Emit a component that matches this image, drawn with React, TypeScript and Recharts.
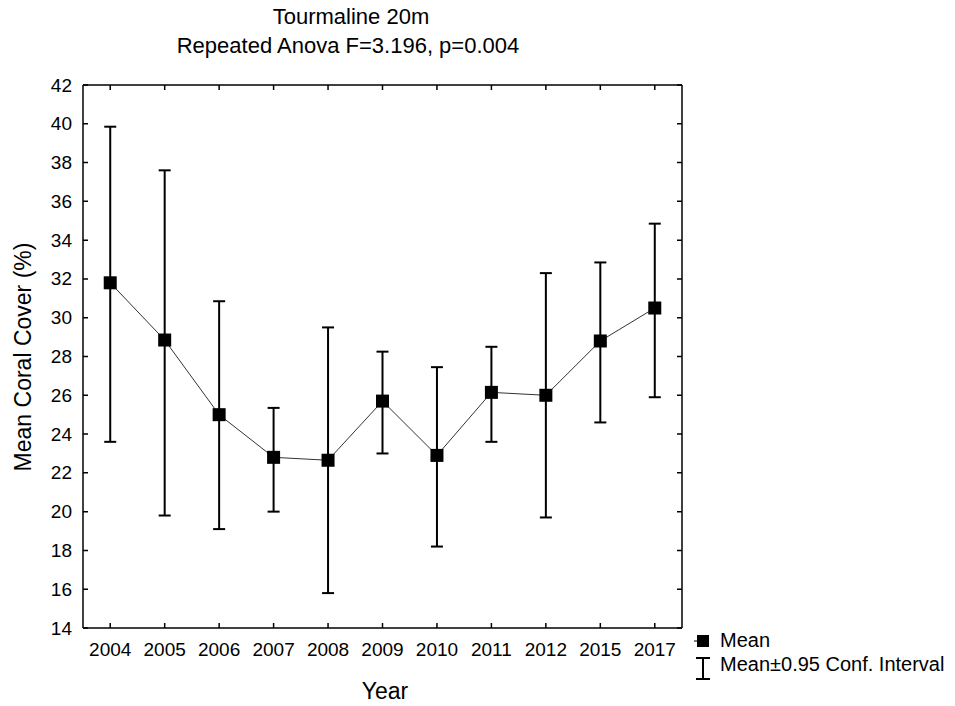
import React from "react";
import { LineChart, Line, XAxis, YAxis, ErrorBar, Legend } from "recharts";

const YEARS = ["2004", "2005", "2006", "2007", "2008", "2009", "2010", "2011", "2012", "2015", "2017"];
const MEANS = [31.8, 28.85, 25.0, 22.8, 22.65, 25.7, 22.9, 26.15, 26.0, 28.8, 30.5];
const LOWER = [23.6, 19.8, 19.1, 20.0, 15.8, 23.0, 18.2, 23.6, 19.7, 24.6, 25.9];
const UPPER = [39.85, 37.6, 30.85, 25.35, 29.5, 28.25, 27.45, 28.5, 32.3, 32.85, 34.85];
const Y_TICKS = [14, 16, 18, 20, 22, 24, 26, 28, 30, 32, 34, 36, 38, 40, 42];
const LEGEND_LABELS = ["Mean", "Mean±0.95 Conf. Interval"];

const data = YEARS.map((year, i) => ({
  year,
  mean: MEANS[i],
  ci: [MEANS[i] - LOWER[i], UPPER[i] - MEANS[i]],
}));

const FONT = '"Liberation Sans", Arial, sans-serif';
const W = 955;
const H = 706;
const MARGIN = { top: 84, right: 272, bottom: 77, left: 82 };
// plot width: margins plus the 1px axis widths on both sides
const PLOT_W = W - MARGIN.left - MARGIN.right - 2;
const TICK_LEN = 5;

const SquareDot = (props: any) => {
  const { cx, cy } = props;
  if (cx == null || cy == null) return null;
  return <rect x={cx - 6.5} y={cy - 6.5} width={13} height={13} fill="#000" />;
};

// inward tick marks drawn by hand; the left axis also draws the mirrored right-edge ticks
const FrameTick = (props: any) => {
  const { x, y, payload, side, label } = props;
  const px = Number(x);
  const py = Number(y);
  let d = "";
  let text = null;
  if (side === "bottom") {
    d = `M${px},${py}V${py - TICK_LEN}`;
    if (label)
      text = (
        <text x={px} y={py + 28} textAnchor="middle" fontSize={19} fontFamily={FONT} fill="#000">
          {payload.value}
        </text>
      );
  } else if (side === "top") {
    d = `M${px},${py}V${py + TICK_LEN}`;
  } else {
    const rx = px + PLOT_W;
    d = `M${px},${py}H${px + TICK_LEN}M${rx},${py}H${rx - TICK_LEN}`;
    if (label)
      text = (
        <text x={px - 11} y={py + 6.5} textAnchor="end" fontSize={19} fontFamily={FONT} fill="#000">
          {payload.value}
        </text>
      );
  }
  return (
    <g>
      <path d={d} stroke="#000" strokeWidth={1.5} fill="none" />
      {text}
    </g>
  );
};

const LegendBox = () => (
  <svg width={265} height={60} style={{ display: "block" }}>
    <line x1={4} y1={14} x2={8} y2={14} stroke="#000" strokeWidth={1} />
    <rect x={7} y={8} width={12} height={12} fill="#000" />
    <text x={30} y={20} fontSize={20} fontFamily={FONT} fill="#000">
      {LEGEND_LABELS[0]}
    </text>
    <line x1={13} y1={31} x2={13} y2={52} stroke="#000" strokeWidth={2} />
    <line x1={6} y1={31} x2={20} y2={31} stroke="#000" strokeWidth={2} />
    <line x1={6} y1={52} x2={20} y2={52} stroke="#000" strokeWidth={2} />
    <text x={30} y={44} fontSize={20} fontFamily={FONT} fill="#000">
      {LEGEND_LABELS[1]}
    </text>
  </svg>
);

const axisLine = { stroke: "#000", strokeWidth: 1.5 };

export default function App() {
  return (
    <div style={{ position: "absolute", left: 0, top: 0, width: W, height: H, background: "#fff" }}>
      <LineChart width={W} height={H} data={data} margin={MARGIN}>
        <XAxis
          xAxisId="bottom"
          dataKey="year"
          scale="band"
          height={1}
          interval={0}
          tickSize={0}
          tickMargin={0}
          tickLine={false}
          tick={<FrameTick side="bottom" label />}
          axisLine={axisLine}
        />
        <XAxis
          xAxisId="top"
          orientation="top"
          dataKey="year"
          scale="band"
          height={1}
          interval={0}
          tickSize={0}
          tickMargin={0}
          tickLine={false}
          tick={<FrameTick side="top" />}
          axisLine={axisLine}
        />
        <YAxis
          yAxisId="left"
          width={1}
          domain={[14, 42]}
          ticks={Y_TICKS}
          interval={0}
          tickSize={0}
          tickMargin={0}
          tickLine={false}
          tick={<FrameTick side="left" label />}
          axisLine={axisLine}
        />
        <YAxis
          yAxisId="right"
          orientation="right"
          width={1}
          domain={[14, 42]}
          tickLine={false}
          tick={false}
          axisLine={axisLine}
        />
        <Legend
          layout="vertical"
          align="center"
          verticalAlign="middle"
          content={<LegendBox />}
          wrapperStyle={{ left: 690, top: 627, width: 265, height: 60 }}
        />
        <Line
          xAxisId="bottom"
          yAxisId="left"
          dataKey="mean"
          stroke="#333"
          strokeWidth={1}
          dot={<SquareDot />}
          activeDot={false}
          isAnimationActive={false}
          legendType="square"
        >
          <ErrorBar dataKey="ci" direction="y" width={6} stroke="#000" strokeWidth={2} isAnimationActive={false} />
        </Line>
      </LineChart>
      <svg
        width={W}
        height={H}
        style={{ position: "absolute", left: 0, top: 0, pointerEvents: "none" }}
        fontFamily={FONT}
      >
        <text x={351} y={24} textAnchor="middle" fontSize={22} fill="#000">
          Tourmaline 20m
        </text>
        <text x={348} y={53} textAnchor="middle" fontSize={22} fill="#000">
          Repeated Anova F=3.196, p=0.004
        </text>
        <text x={31} y={357} transform="rotate(-90 31 357)" textAnchor="middle" fontSize={23} fill="#000">
          Mean Coral Cover (%)
        </text>
        <text x={385} y={699} textAnchor="middle" fontSize={23} fill="#000">
          Year
        </text>
      </svg>
    </div>
  );
}
